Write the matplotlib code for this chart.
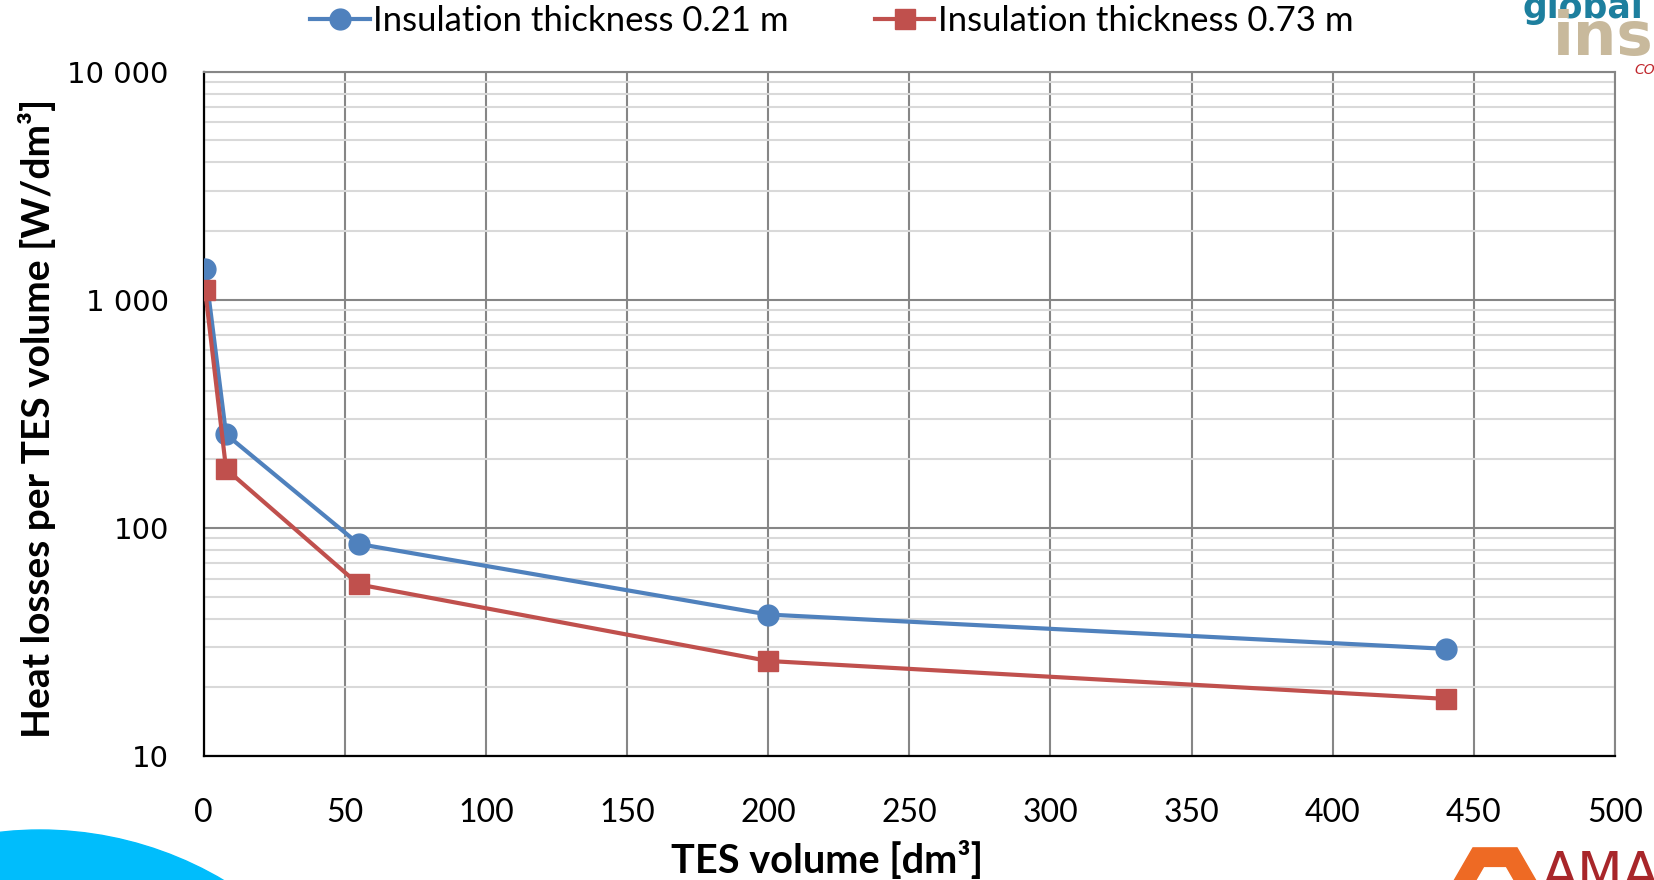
import numpy as np
import matplotlib
matplotlib.use("Agg")
import matplotlib.pyplot as plt
from matplotlib.ticker import FixedLocator, FixedFormatter, LogLocator, NullFormatter
import matplotlib.patches as mpatches

# data
tes_volume = [0.6, 8, 55, 200, 440]
loss_021 = [1370, 257, 85, 41.7, 29.5]
loss_073 = [1100, 181, 56.5, 26.1, 17.8]

series_labels = ["Insulation thickness 0.21 m", "Insulation thickness 0.73 m"]
xticks = [0, 50, 100, 150, 200, 250, 300, 350, 400, 450, 500]
yticks = [10, 100, 1000, 10000]
ytick_labels = ["10", "100", "1 000", "10 000"]

blue = "#4f81bd"
red = "#c0504d"
grid_major = "#868686"
grid_minor = "#d9d9d9"

W, H = 1654, 880
fig = plt.figure(figsize=(W / 100, H / 100), dpi=100)
ax = fig.add_axes([203.5 / W, 1 - 756 / H, (1615 - 203.5) / W, (756 - 71.7) / H])

ax.plot(tes_volume, loss_021, color=blue, lw=3.0, marker="o", ms=15,
        label=series_labels[0], zorder=4)
ax.plot(tes_volume, loss_073, color=red, lw=3.0, marker="s", ms=14,
        label=series_labels[1], zorder=4)

ax.set_yscale("log")
ax.set_ylim(10, 10000)
ax.set_xlim(0, 500)

ax.xaxis.set_major_locator(FixedLocator(xticks))
ax.yaxis.set_major_locator(FixedLocator(yticks))
ax.yaxis.set_major_formatter(FixedFormatter(ytick_labels))
ax.yaxis.set_minor_locator(LogLocator(base=10, subs=np.arange(2, 10)))
ax.yaxis.set_minor_formatter(NullFormatter())

ax.grid(which="major", axis="both", color=grid_major, lw=1.5, zorder=1)
ax.grid(which="minor", axis="y", color=grid_minor, lw=1.5, zorder=0)
ax.set_axisbelow(True)

for s in ["top", "right"]:
    ax.spines[s].set_color(grid_major)
    ax.spines[s].set_linewidth(1.5)
for s in ["left", "bottom"]:
    ax.spines[s].set_color("black")
    ax.spines[s].set_linewidth(1.6)

ax.tick_params(which="both", length=0)
ax.tick_params(axis="x", pad=30, labelsize=23)
ax.tick_params(axis="y", pad=25, labelsize=21)
for t in ax.get_xticklabels():
    t.set_fontfamily("Lato")
for t in ax.get_yticklabels():
    t.set_fontfamily("DejaVu Sans")

fig.text(827 / W, 1 - 860 / H, "TES volume [dm³]", family="Lato", weight="bold",
         fontsize=28.5, ha="center", va="center")
fig.text(37 / W, 1 - 418 / H, "Heat losses per TES volume [W/dm³]", family="Lato",
         weight="bold", fontsize=28, ha="center", va="center", rotation=90)

leg = fig.legend(loc="center", bbox_to_anchor=(832 / W, 1 - 21 / H), ncol=2,
                 frameon=False, prop={"family": "Lato", "size": 25},
                 handlelength=1.7, handletextpad=0.1, columnspacing=2.5,
                 borderpad=0, borderaxespad=0)

# logos, roughly (pixel positions via dpi_scale_trans, in inches)
px = fig.dpi_scale_trans
fig.text(1523 / W, 1 - 8 / H, "global", color="#1d7f9e", weight="bold",
         fontsize=25, family="DejaVu Sans", va="center", ha="left")
fig.text(1553 / W, 1 - 38 / H, "insu", color="#c8b99c", weight="bold",
         fontsize=44, family="DejaVu Sans Condensed", va="center", ha="left")
fig.text(1634 / W, 1 - 70 / H, "CON", color="#c0262c", style="italic",
         fontsize=10, family="DejaVu Sans", va="center", ha="left")

fig.patches.append(mpatches.Circle((0.40, (H - 1190) / 100), 3.6, color="#00bdfc",
                                   transform=px, zorder=0))
fig.patches.append(mpatches.RegularPolygon((14.95, (H - 886) / 100), 6, radius=0.44,
                                           orientation=np.pi / 6, color="#ee6a24",
                                           transform=px))
fig.patches.append(mpatches.RegularPolygon((14.95, (H - 886) / 100), 6, radius=0.21,
                                           orientation=np.pi / 6, color="white",
                                           transform=px))
fig.text(1542 / W, 1 - 890 / H, "AMA", color="#a8262a", fontsize=38,
         family="DejaVu Sans", va="baseline", ha="left")

fig.savefig("out.png", dpi=100)
